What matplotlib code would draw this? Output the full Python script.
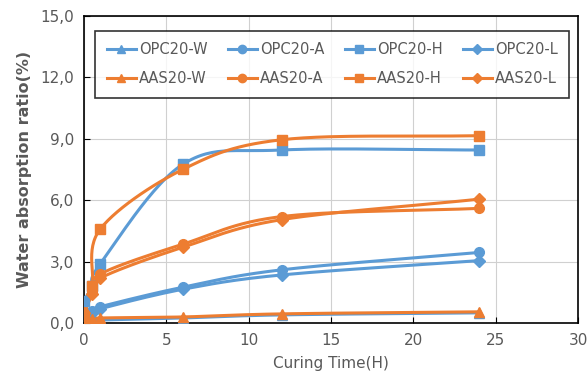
import numpy as np
import matplotlib.pyplot as plt

# curing time (h)
hours = [0, 0.5, 1, 6, 12, 24]

# water absorption ratio (%)
opc_w = [0.1, 0.12, 0.15, 0.25, 0.4, 0.5]
opc_a = [0.4, 0.6, 0.8, 1.75, 2.6, 3.45]
opc_h = [1.1, 1.8, 2.9, 7.75, 8.45, 8.45]
opc_l = [0.3, 0.5, 0.7, 1.65, 2.35, 3.05]
aas_w = [0.15, 0.2, 0.25, 0.3, 0.45, 0.55]
aas_a = [0.5, 1.5, 2.4, 3.85, 5.2, 5.6]
aas_h = [0.3, 1.8, 4.6, 7.5, 8.95, 9.15]
aas_l = [0.5, 1.4, 2.2, 3.7, 5.05, 6.05]

labels = ['OPC20-W', 'OPC20-A', 'OPC20-H', 'OPC20-L',
          'AAS20-W', 'AAS20-A', 'AAS20-H', 'AAS20-L']

BLUE = '#5B9BD5'
ORANGE = '#ED7D31'
GREY = '#595959'


def smooth(x, y, n=30):
    # catmull-rom curve through the points, like excel's smoothed line
    p = np.column_stack([x, y]).astype(float)
    p = np.vstack([2 * p[0] - p[1], p, 2 * p[-1] - p[-2]])
    out = []
    t = np.linspace(0, 1, n)[:, None]
    for i in range(1, len(p) - 2):
        p0, p1, p2, p3 = p[i - 1], p[i], p[i + 1], p[i + 2]
        seg = 0.5 * ((2 * p1) + (-p0 + p2) * t
                     + (2 * p0 - 5 * p1 + 4 * p2 - p3) * t ** 2
                     + (-p0 + 3 * p1 - 3 * p2 + p3) * t ** 3)
        out.append(seg)
    out = np.vstack(out)
    return out[:, 0], out[:, 1]


fig = plt.figure(figsize=(5.87, 3.86), dpi=100)
ax = fig.add_axes([0.143, 0.163, 0.842, 0.796])

series = [opc_w, opc_a, opc_h, opc_l, aas_w, aas_a, aas_h, aas_l]
markers = ['^', 'o', 's', 'D'] * 2
colors = [BLUE] * 4 + [ORANGE] * 4
handles = []
for vals, m, c, lab in zip(series, markers, colors, labels):
    sx, sy = smooth(hours, vals)
    ax.plot(sx, sy, color=c, lw=2.2, zorder=3)
    ax.plot(hours, vals, ls='none', marker=m, color=c, ms=7 if m != 'D' else 6, zorder=4)
    h, = ax.plot([], [], color=c, lw=2.2, marker=m, ms=6 if m != 'D' else 5, label=lab)
    handles.append(h)

ax.set_xlim(0, 30)
ax.set_ylim(0, 15)
ax.set_xticks([0, 5, 10, 15, 20, 25, 30])
ax.set_yticks([0, 3, 6, 9, 12, 15])
ax.set_yticklabels(['0,0', '3,0', '6,0', '9,0', '12,0', '15,0'])
ax.grid(True, color='#D0D0D0', lw=0.8)
ax.set_axisbelow(True)
ax.tick_params(direction='in', length=4, labelsize=11, labelcolor=GREY,
               color='black', pad=7)
for lab in ax.get_xticklabels() + ax.get_yticklabels():
    lab.set_family('DejaVu Sans Condensed')
for sp in ax.spines.values():
    sp.set_color('black')
    sp.set_linewidth(1.2)

ax.set_xlabel('Curing Time(H)', fontsize=11, color=GREY,
              family='DejaVu Sans Condensed', labelpad=6)
ax.set_ylabel('Water absorption ratio(%)', fontsize=11.5, color=GREY,
              fontweight='bold', labelpad=6)

# matplotlib fills legend column by column
order = [0, 4, 1, 5, 2, 6, 3, 7]
leg = ax.legend([handles[i] for i in order], [labels[i] for i in order],
                ncol=4, loc='upper center', bbox_to_anchor=(0.502, 0.975),
                frameon=True, fancybox=False, edgecolor='black',
                handlelength=2.0, handletextpad=0.2,
                columnspacing=1.4, borderpad=0.8, labelspacing=0.95,
                prop={'family': 'DejaVu Sans Condensed', 'size': 10.5})
leg.get_frame().set_linewidth(1.2)
for t in leg.get_texts():
    t.set_color(GREY)

fig.savefig('out.png', dpi=100)
